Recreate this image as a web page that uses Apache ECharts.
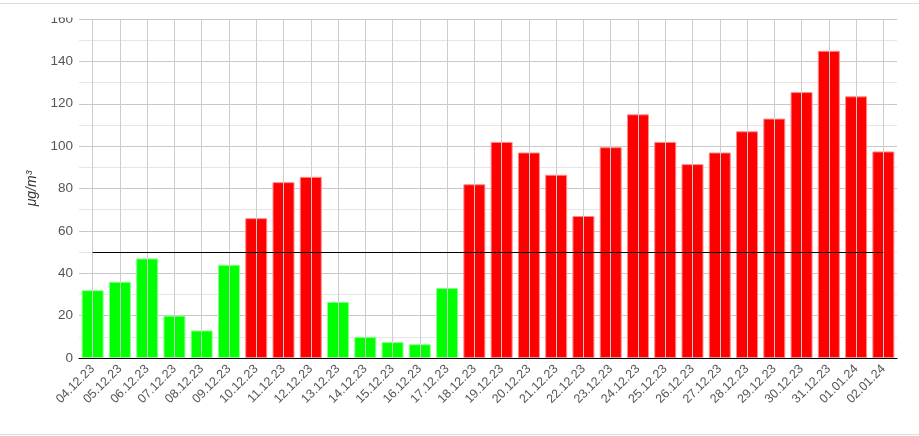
<!DOCTYPE html>
<html>
<head>
<meta charset="utf-8">
<script src="https://cdn.jsdelivr.net/npm/echarts@6/dist/echarts.min.js"></script>
<style>
html,body{margin:0;padding:0;background:#fff;}
#chart{width:919px;height:436px;}
</style>
</head>
<body>
<div id="chart"></div>
<script>
const categories = ['04.12.23','05.12.23','06.12.23','07.12.23','08.12.23','09.12.23','10.12.23','11.12.23','12.12.23','13.12.23','14.12.23','15.12.23','16.12.23','17.12.23','18.12.23','19.12.23','20.12.23','21.12.23','22.12.23','23.12.23','24.12.23','25.12.23','26.12.23','27.12.23','28.12.23','29.12.23','30.12.23','31.12.23','01.01.24','02.01.24'];
const values = [32, 36, 47, 20, 13, 44, 66, 83, 85.5, 26.5, 10, 7.5, 6.5, 33, 82, 102, 97, 86.5, 67, 99.5, 115, 102, 91.5, 97, 107, 113, 125.5, 145, 123.5, 97.5];
const limitValue = 50;
const yTicks = { min: 0, max: 160, interval: 20 };
const unitLabel = 'μg/m³';

const chart = echarts.init(document.getElementById('chart'));
const barData = values.map(v => ({
  value: v,
  itemStyle: v > limitValue
    ? { color: '#ff0000', borderColor: '#ff8a8a' }
    : { color: '#00ff00', borderColor: '#8cff8c' }
}));

chart.setOption({
  animation: false,
  backgroundColor: '#ffffff',
  graphic: [
    { type: 'rect', z: 100, shape: { x: 0, y: 4, width: 919, height: 13.5 }, style: { fill: '#ffffff' } },
    { type: 'line', z: 101, shape: { x1: 0, y1: 3.5, x2: 919, y2: 3.5 }, style: { stroke: '#dddddd', lineWidth: 1 } },
    { type: 'line', z: 101, shape: { x1: 0, y1: 434.5, x2: 919, y2: 434.5 }, style: { stroke: '#dddddd', lineWidth: 1 } }
  ],
  grid: { left: 79, right: 22, top: 19, bottom: 78, containLabel: false },
  xAxis: {
    type: 'category',
    data: categories,
    boundaryGap: true,
    axisLine: { show: true, lineStyle: { color: '#000000', width: 1 } },
    axisTick: { show: false },
    splitLine: { show: true, alignWithLabel: true, lineStyle: { color: '#cccccc', width: 1 } },
    axisLabel: {
      rotate: 45, interval: 0, margin: 9,
      color: '#555555', fontSize: 12.5, fontFamily: 'Liberation Sans, Arial, sans-serif'
    },
    z: 3
  },
  yAxis: {
    type: 'value',
    min: yTicks.min, max: yTicks.max, interval: yTicks.interval,
    name: unitLabel,
    nameLocation: 'middle',
    nameGap: 33,
    nameRotate: 90,
    nameTextStyle: { color: '#333333', fontSize: 14, fontStyle: 'italic', fontFamily: 'Liberation Sans, Arial, sans-serif' },
    axisLine: { show: false },
    axisTick: { show: false },
    axisLabel: { color: '#555555', fontSize: 13.5, margin: 6, fontFamily: 'Liberation Sans, Arial, sans-serif' },
    splitLine: { show: true, lineStyle: { color: '#c8c8c8', width: 1 } },
    minorTick: { show: false, splitNumber: 2 },
    minorSplitLine: { show: true, lineStyle: { color: '#e6e6e6', width: 1 } }
  },
  series: [
    {
      type: 'bar',
      data: barData,
      barWidth: 22,
      itemStyle: { borderWidth: 1 },
      markLine: {
        silent: true,
        symbol: ['none', 'none'],
        label: { show: false },
        lineStyle: { color: '#000000', width: 1, type: 'solid' },
        data: [[
          { coord: [categories[0], limitValue] },
          { coord: [categories[categories.length - 1], limitValue] }
        ]]
      }
    }
  ]
});
</script>
</body>
</html>
